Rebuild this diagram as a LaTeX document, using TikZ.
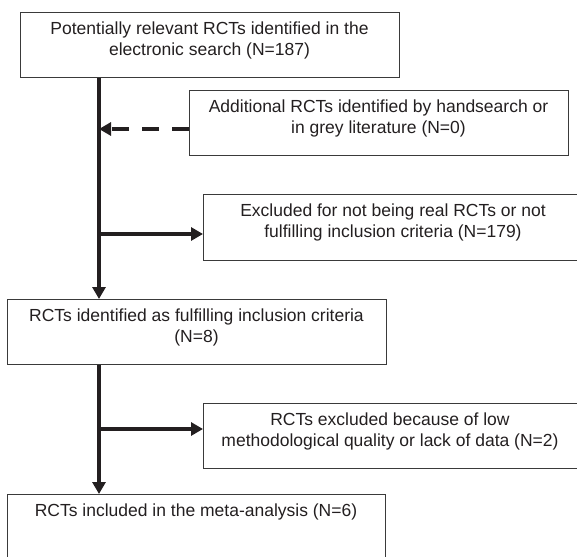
\documentclass[tikz,border=0pt]{standalone}
\usepackage{fontspec}
\setmainfont{Liberation Sans}
\usetikzlibrary{arrows.meta}
\definecolor{ink}{HTML}{231F20}
\definecolor{boxline}{HTML}{3A3A3A}
\tikzset{
  box/.style={draw=boxline, line width=1pt, rectangle, inner sep=0pt, anchor=north west},
  txt/.style={text=ink, font=\fontsize{17.5}{20.7}\selectfont, align=center, inner sep=0pt, anchor=north},
  flow/.style={draw=ink, line width=3.6pt, -{Triangle[length=12pt,width=13pt]}},
  dashflow/.style={flow, dash pattern=on 16.7pt off 13.3pt}
}
\begin{document}
\begin{tikzpicture}[x=1pt,y=-1pt]
\useasboundingbox (0,0) rectangle (577,556);
\clip (0,0) rectangle (577,556);
% boxes
\node[box, minimum width=379pt, minimum height=65pt] (b1) at (20,12) {};
\node[box, minimum width=379pt, minimum height=65pt] (b2) at (189,90) {};
\node[box, minimum width=380pt, minimum height=66pt] (b3) at (203,194) {};
\node[box, minimum width=379pt, minimum height=65pt] (b4) at (7,299) {};
\node[box, minimum width=380pt, minimum height=65pt] (b5) at (203,403) {};
\node[box, minimum width=378pt, minimum height=80pt] (b6) at (7,494) {};
% texts
\node[txt] (t1) at (209.5,22) {Potentially relevant RCTs identified in the\\electronic search (N=187)};
\node[txt] (t2) at (378.5,100) {Additional RCTs identified by handsearch or\\in grey literature (N=0)};
\node[txt] (t3) at (393,204) {Excluded for not being real RCTs or not\\fulfilling inclusion criteria (N=179)};
\node[txt] (t4) at (196.5,309) {RCTs identified as fulfilling inclusion criteria\\(N=8)};
\node[txt] (t5) at (390,413) {RCTs excluded because of low\\methodological quality or lack of data (N=2)};
\node[txt] (t6) at (196,504) {RCTs included in the meta-analysis (N=6)};
% junctions on the main line
\coordinate (c1) at (99,129);
\coordinate (c2) at (99,234);
\coordinate (c3) at (99,429);
% connectors
\draw[flow] (b1.south -| c1) -- (b4.north -| c1);
\draw[flow] (b4.south -| c1) -- (b6.north -| c1);
\draw[dashflow] (b2.west |- c1) -- (c1);
\draw[flow] (c2) -- (b3.west |- c2);
\draw[flow] (c3) -- (b5.west |- c3);
\end{tikzpicture}
\end{document}
